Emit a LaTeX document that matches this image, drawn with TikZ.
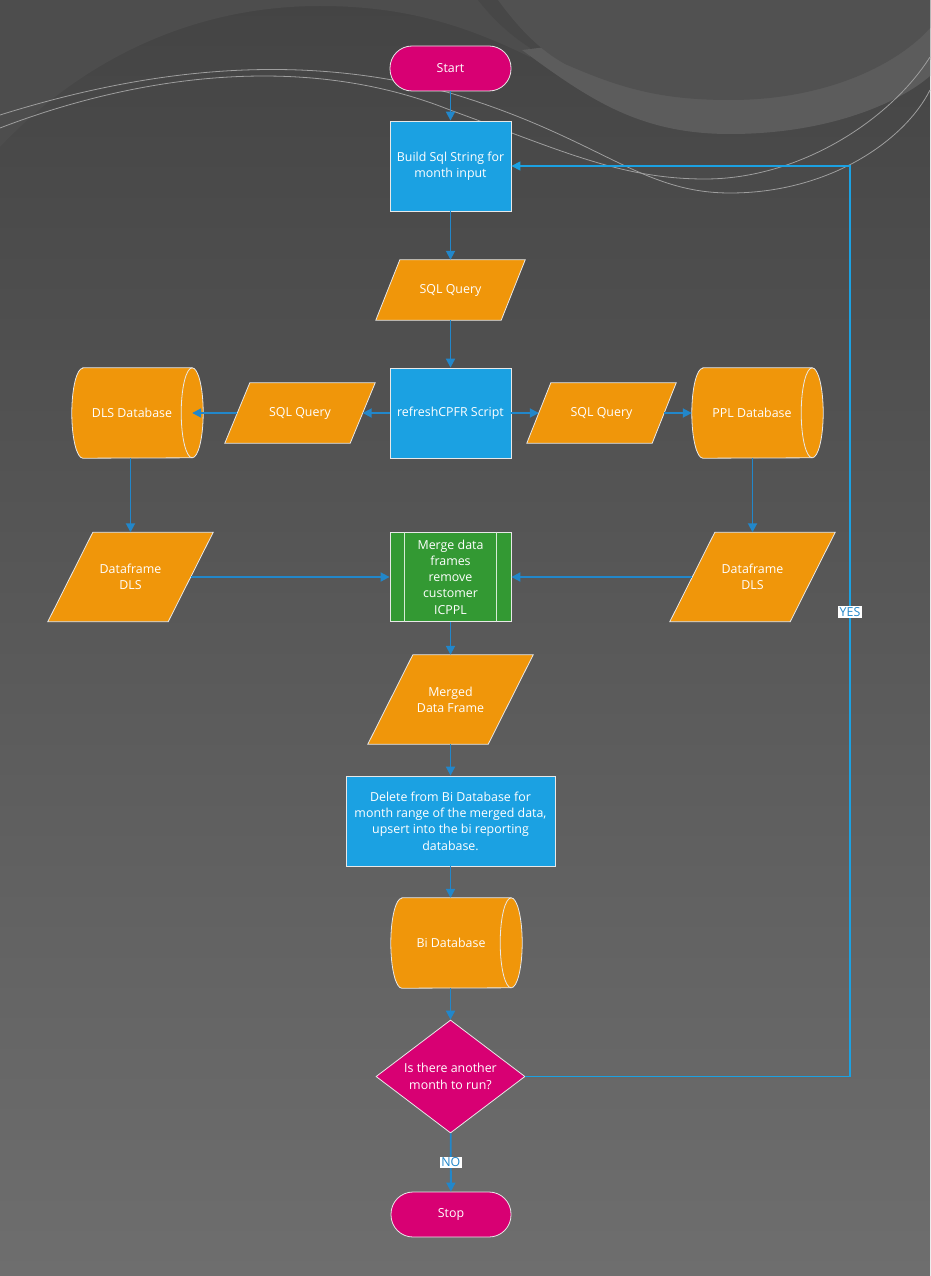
\documentclass[tikz,border=0pt]{standalone}
\usepackage{fontspec}
\setmainfont{Open Sans}
\usetikzlibrary{shapes.geometric,arrows.meta}
\definecolor{mag}{HTML}{D80073}
\definecolor{procblue}{HTML}{1BA1E2}
\definecolor{orng}{HTML}{F0960A}
\definecolor{grn}{HTML}{339933}
\definecolor{conn}{HTML}{2287CA}
\definecolor{loopblue}{HTML}{1BA1E2}
\definecolor{edgec}{HTML}{E8E8E8}
\definecolor{bgtop}{HTML}{444444}
\definecolor{bgbot}{HTML}{6E6E6E}
\definecolor{toplight}{HTML}{4D4D4D}
\definecolor{bandc}{HTML}{5C5C5C}
\definecolor{innerc}{HTML}{515151}
\definecolor{streak}{HTML}{474747}
\pgfdeclarelayer{bgl}
\pgfdeclarelayer{shp}
\pgfsetlayers{bgl,shp,main}
\newcommand\fs{\fontsize{12.4}{16.3}\selectfont}
\tikzset{
  base/.style={text=white, font=\fs, inner sep=2pt},
  term/.style={base, fill=mag, draw=edgec, line width=0.8pt, rounded corners=22pt, minimum width=121pt, minimum height=45pt},
  proc/.style={base, align=center, fill=procblue, draw=edgec, line width=0.8pt, minimum height=90pt},
  mergebox/.style={proc, fill=grn},
  decbox/.style={base, align=center, diamond, aspect=1.32, fill=mag, draw=edgec, line width=0.8pt, minimum width=149pt, minimum height=113pt, inner sep=0pt},
  ionode/.style={base, align=center},
  shapefill/.style={fill=orng, draw=edgec, line width=0.8pt},
  arr/.style={draw=conn, line width=1.8pt, -{Triangle[length=9pt,width=9pt]}},
  looparr/.style={draw=loopblue, line width=1.3pt, -{Triangle[length=9pt,width=9pt]}},
  lab/.style={fill=white, text=conn, inner sep=1.2pt, font=\fontsize{12.4}{14}\selectfont},
  swirl/.style={draw=white!62!black, line width=0.8pt},
}
% parallelogram: name, x, y, body width, height, slant, text
\newcommand\ioshape[7]{%
  \node[ionode, minimum width=#4pt, minimum height=#5pt] (#1) at (#2,#3) {#7};
  \begin{pgfonlayer}{shp}
    \filldraw[shapefill] ([xshift=#6pt/2]#1.north west) -- ([xshift=#6pt/2]#1.north east)
      -- ([xshift=-#6pt/2]#1.south east) -- ([xshift=-#6pt/2]#1.south west) -- cycle;
  \end{pgfonlayer}}
% horizontal cylinder: name, x, y, body width, height, bulge, text
\newcommand\dbshape[7]{%
  \node[base, minimum width=#4pt, minimum height=#5pt] (#1) at (#2,#3) {#7\hspace*{#6pt}};
  \begin{pgfonlayer}{shp}
    \filldraw[shapefill] (#1.north west) -- (#1.north east)
      arc[start angle=90, end angle=-90, x radius=#6pt, y radius=#5pt/2]
      -- (#1.south west)
      arc[start angle=270, end angle=90, x radius=#6pt, y radius=#5pt/2] -- cycle;
    \draw[draw=edgec, line width=0.8pt] (#1.north east)
      arc[start angle=90, end angle=270, x radius=#6pt, y radius=#5pt/2];
  \end{pgfonlayer}}
\begin{document}
\begin{tikzpicture}[x=1pt, y=-1pt]
\useasboundingbox (0,0) rectangle (930,1276);
\begin{pgfonlayer}{bgl}
  \shade[top color=bgtop, bottom color=bgbot] (0,0) rectangle (930,1276);
  \fill[toplight] (0,0) -- (0,147)
     .. controls (80,62) and (190,6) .. (320,6)
     .. controls (410,6) and (470,28) .. (530,57) -- (530,0) -- cycle;
  \fill[streak] (478,0) .. controls (500,28) and (525,48) .. (560,64)
     -- (600,80) -- (930,60) -- (930,0) -- cycle;
  \fill[bandc] (522,50) .. controls (590,100) and (640,134) .. (730,134)
     .. controls (830,134) and (900,102) .. (930,76) -- (930,0) -- cycle;
  \fill[innerc] (498,0) .. controls (520,30) and (540,50) .. (565,64)
     .. controls (620,88) and (660,100) .. (730,100)
     .. controls (830,100) and (900,62) .. (930,28) -- (930,0) -- cycle;
  \draw[swirl] (0,115) .. controls (150,68) and (300,52) .. (450,93)
     .. controls (600,138) and (640,193) .. (730,193)
     .. controls (830,193) and (905,140) .. (930,90);
  \draw[swirl] (0,128) .. controls (130,78) and (300,50) .. (450,110)
     .. controls (560,150) and (620,179) .. (705,179)
     .. controls (800,179) and (890,120) .. (930,57);
\end{pgfonlayer}

% nodes
\node[term] (start) at (450.5,68.5) {Start};
\node[proc, minimum width=121pt] (build) at (450.5,166) {Build Sql String for\\month input};
\ioshape{q1}{450.5}{290}{125}{60}{24}{SQL Query}
\node[proc, minimum width=121pt] (refresh) at (450.5,413) {refreshCPFR Script};
\ioshape{q2}{300}{413}{125}{60}{25}{SQL Query}
\ioshape{q3}{601.5}{413}{125}{60}{24}{SQL Query}
\dbshape{dls}{137.5}{413}{109}{90}{11}{DLS Database}
\dbshape{ppl}{757.5}{413}{109}{90}{11}{PPL Database}
\ioshape{dfl}{130.5}{577}{120}{89}{45}{Dataframe\\DLS}
\ioshape{dfr}{752.5}{577}{120}{89}{45}{Dataframe\\DLS}
\node[mergebox, minimum width=121pt, minimum height=89pt] (merge) at (450.5,577)
   {Merge data\\frames\\remove\\customer\\ICPPL};
\draw[draw=white!80!grn, line width=0.8pt] ([xshift=15pt]merge.north west) -- ([xshift=15pt]merge.south west)
   ([xshift=-15pt]merge.north east) -- ([xshift=-15pt]merge.south east);
\ioshape{mdf}{450.5}{699.5}{120}{89}{45}{Merged\\Data Frame}
\node[proc, minimum width=209pt] (del) at (450.5,821)
   {Delete from Bi Database for\\month range of the merged data,\\upsert into the bi reporting\\database.};
\dbshape{bi}{456.5}{943}{109}{90}{11}{Bi Database}
\node[decbox] (dec) at (450.5,1076.5) {Is there another\\month to run?};
\node[term, minimum width=120pt] (stop) at (451,1214.5) {Stop};
\coordinate (lp) at (850,0);

% connectors
\draw[arr] (start) -- (build);
\draw[arr] (build) -- (q1);
\draw[arr] (q1) -- (refresh);
\draw[arr] (refresh) -- (q2);
\draw[arr] (q2) -- (dls.east);
\draw[arr] (refresh) -- (q3);
\draw[arr] (q3) -- ([xshift=-11pt]ppl.west);
\draw[arr] (dfl.north |- dls.south) -- (dfl);
\draw[arr] (dfr.north |- ppl.south) -- (dfr);
\draw[arr] (dfl) -- (merge);
\draw[arr] (dfr) -- (merge);
\draw[arr] (merge) -- (mdf);
\draw[arr] (mdf) -- (del);
\draw[arr] (del.south) -- (del.south |- bi.north);
\draw[arr] (dec.north |- bi.south) -- (dec);
\draw[arr] (dec) -- node[lab]{NO} (stop);
\draw[looparr] (dec.east) -- (dec.east -| lp) -- node[lab, pos=0.51]{YES} (build.east -| lp) -- (build.east);
\end{tikzpicture}
\end{document}
